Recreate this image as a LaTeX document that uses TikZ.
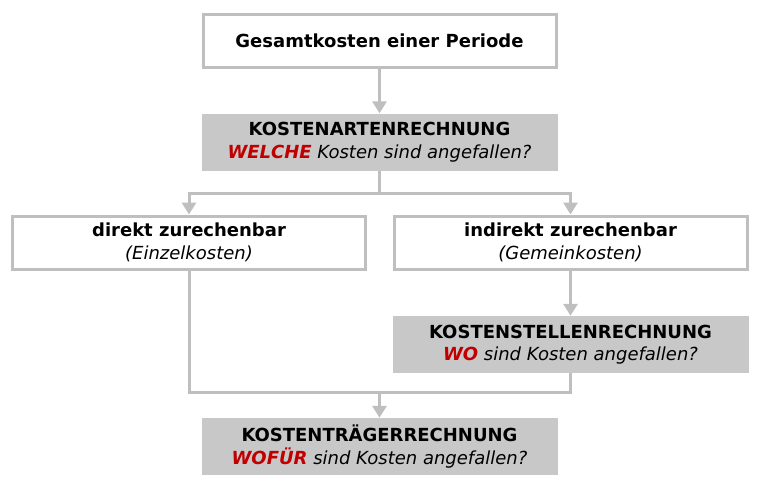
\documentclass[tikz,border=0pt]{standalone}
\usepackage{fontspec}
\setmainfont{DejaVu Sans}
\usetikzlibrary{arrows.meta}
\definecolor{linegray}{HTML}{BFBFBF}
\definecolor{boxgray}{HTML}{C8C8C8}
\definecolor{askred}{HTML}{C00000}
\begin{document}
\begin{tikzpicture}[x=1pt,y=-1pt,
    boxtext/.style={align=center, inner sep=0pt, font=\fontsize{18}{22.5}\selectfont},
    whitebox/.style={boxtext, draw=linegray, line width=3pt, fill=white, minimum width=353pt, minimum height=53pt},
    graybox/.style={boxtext, fill=boxgray, minimum width=356pt, minimum height=57pt},
    link/.style={draw=linegray, line width=3pt},
    flow/.style={link, -{Triangle[width=14pt,length=12pt]}}]
  \useasboundingbox (0,0) rectangle (760,488);

  % boxes
  \node[whitebox] (gesamt) at (379.5,41) {\textbf{Gesamtkosten einer Periode}};
  \node[graybox] (arten) at (379.5,142) {\textbf{KOSTENARTENRECHNUNG}\\
    \textcolor{askred}{\textbf{\textit{WELCHE}}} \textit{Kosten sind angefallen?}};
  \node[whitebox] (direkt) at (189,242.5) {\textbf{direkt zurechenbar}\\ \textit{(Einzelkosten)}};
  \node[whitebox] (indirekt) at (570.5,242.5) {\textbf{indirekt zurechenbar}\\ \textit{(Gemeinkosten)}};
  \node[graybox] (stellen) at (570.5,344.5) {\textbf{KOSTENSTELLENRECHNUNG}\\
    \textcolor{askred}{\textbf{\textit{WO}}} \textit{sind Kosten angefallen?}};
  \node[graybox] (traeger) at (379.5,446.5) {\textbf{KOSTENTRÄGERRECHNUNG}\\
    \textcolor{askred}{\textbf{\textit{WOFÜR}}} \textit{sind Kosten angefallen?}};

  \coordinate (split) at (379.5,193);
  \coordinate (join) at (379.5,392);

  % connectors
  \draw[flow] (gesamt) -- (arten);
  \draw[link] (arten) -- (split);
  \draw[flow] (split) -| (direkt.north);
  \draw[flow] (split) -| (indirekt.north);
  \draw[flow] (indirekt) -- (stellen);
  \draw[link] (direkt.south) |- (join);
  \draw[link] (stellen.south) |- (join);
  \draw[flow] (join) -- (traeger);
\end{tikzpicture}
\end{document}
